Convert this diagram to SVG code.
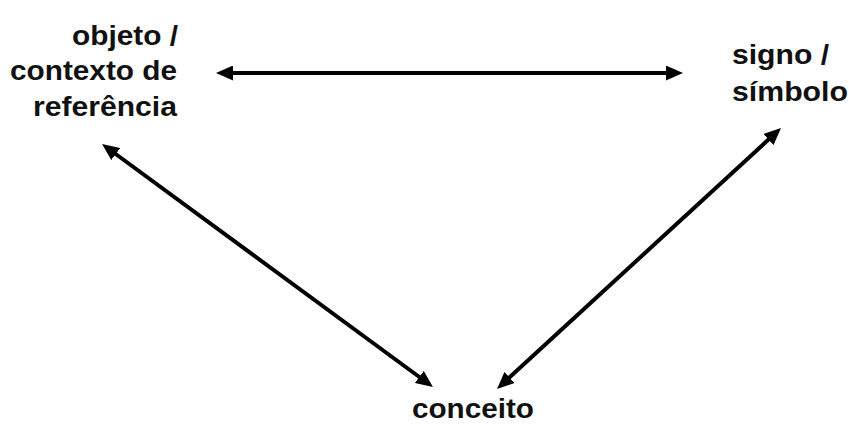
<svg xmlns="http://www.w3.org/2000/svg" width="849" height="425" viewBox="0 0 849 425">
<style>
.lbl{font-family:"Liberation Sans",Arial,sans-serif;font-weight:bold;font-size:27px;fill:#111}
.conn{stroke:#000;stroke-width:4;fill:none;marker-start:url(#ah);marker-end:url(#ah)}
</style>
<defs>
<marker id="ah" markerUnits="userSpaceOnUse" viewBox="0 0 17 15" markerWidth="17" markerHeight="15" refX="6" refY="7.5" orient="auto-start-reverse">
<path d="M0,0 L17,7.5 L0,15 z" fill="#000"/>
</marker>
</defs>
<rect width="849" height="425" fill="#fff"/>
<g id="objeto">
<text class="lbl" x="72" y="45" textLength="106" lengthAdjust="spacingAndGlyphs">objeto /</text>
<text class="lbl" x="10" y="80" textLength="167" lengthAdjust="spacingAndGlyphs">contexto de</text>
<text class="lbl" x="33" y="116" textLength="144" lengthAdjust="spacingAndGlyphs">referência</text>
</g>
<g id="signo">
<text class="lbl" x="732" y="64" textLength="97" lengthAdjust="spacingAndGlyphs">signo /</text>
<text class="lbl" x="732" y="101" textLength="116" lengthAdjust="spacingAndGlyphs">símbolo</text>
</g>
<g id="conceito">
<text class="lbl" x="412" y="418" textLength="122" lengthAdjust="spacingAndGlyphs">conceito</text>
</g>
<g id="connectors">
<line class="conn" x1="227" y1="73" x2="672" y2="73"/>
<line class="conn" x1="110.9" y1="150.5" x2="424.1" y2="380.5"/>
<line class="conn" x1="772.9" y1="135.5" x2="505.1" y2="381.5"/>
</g>
</svg>
